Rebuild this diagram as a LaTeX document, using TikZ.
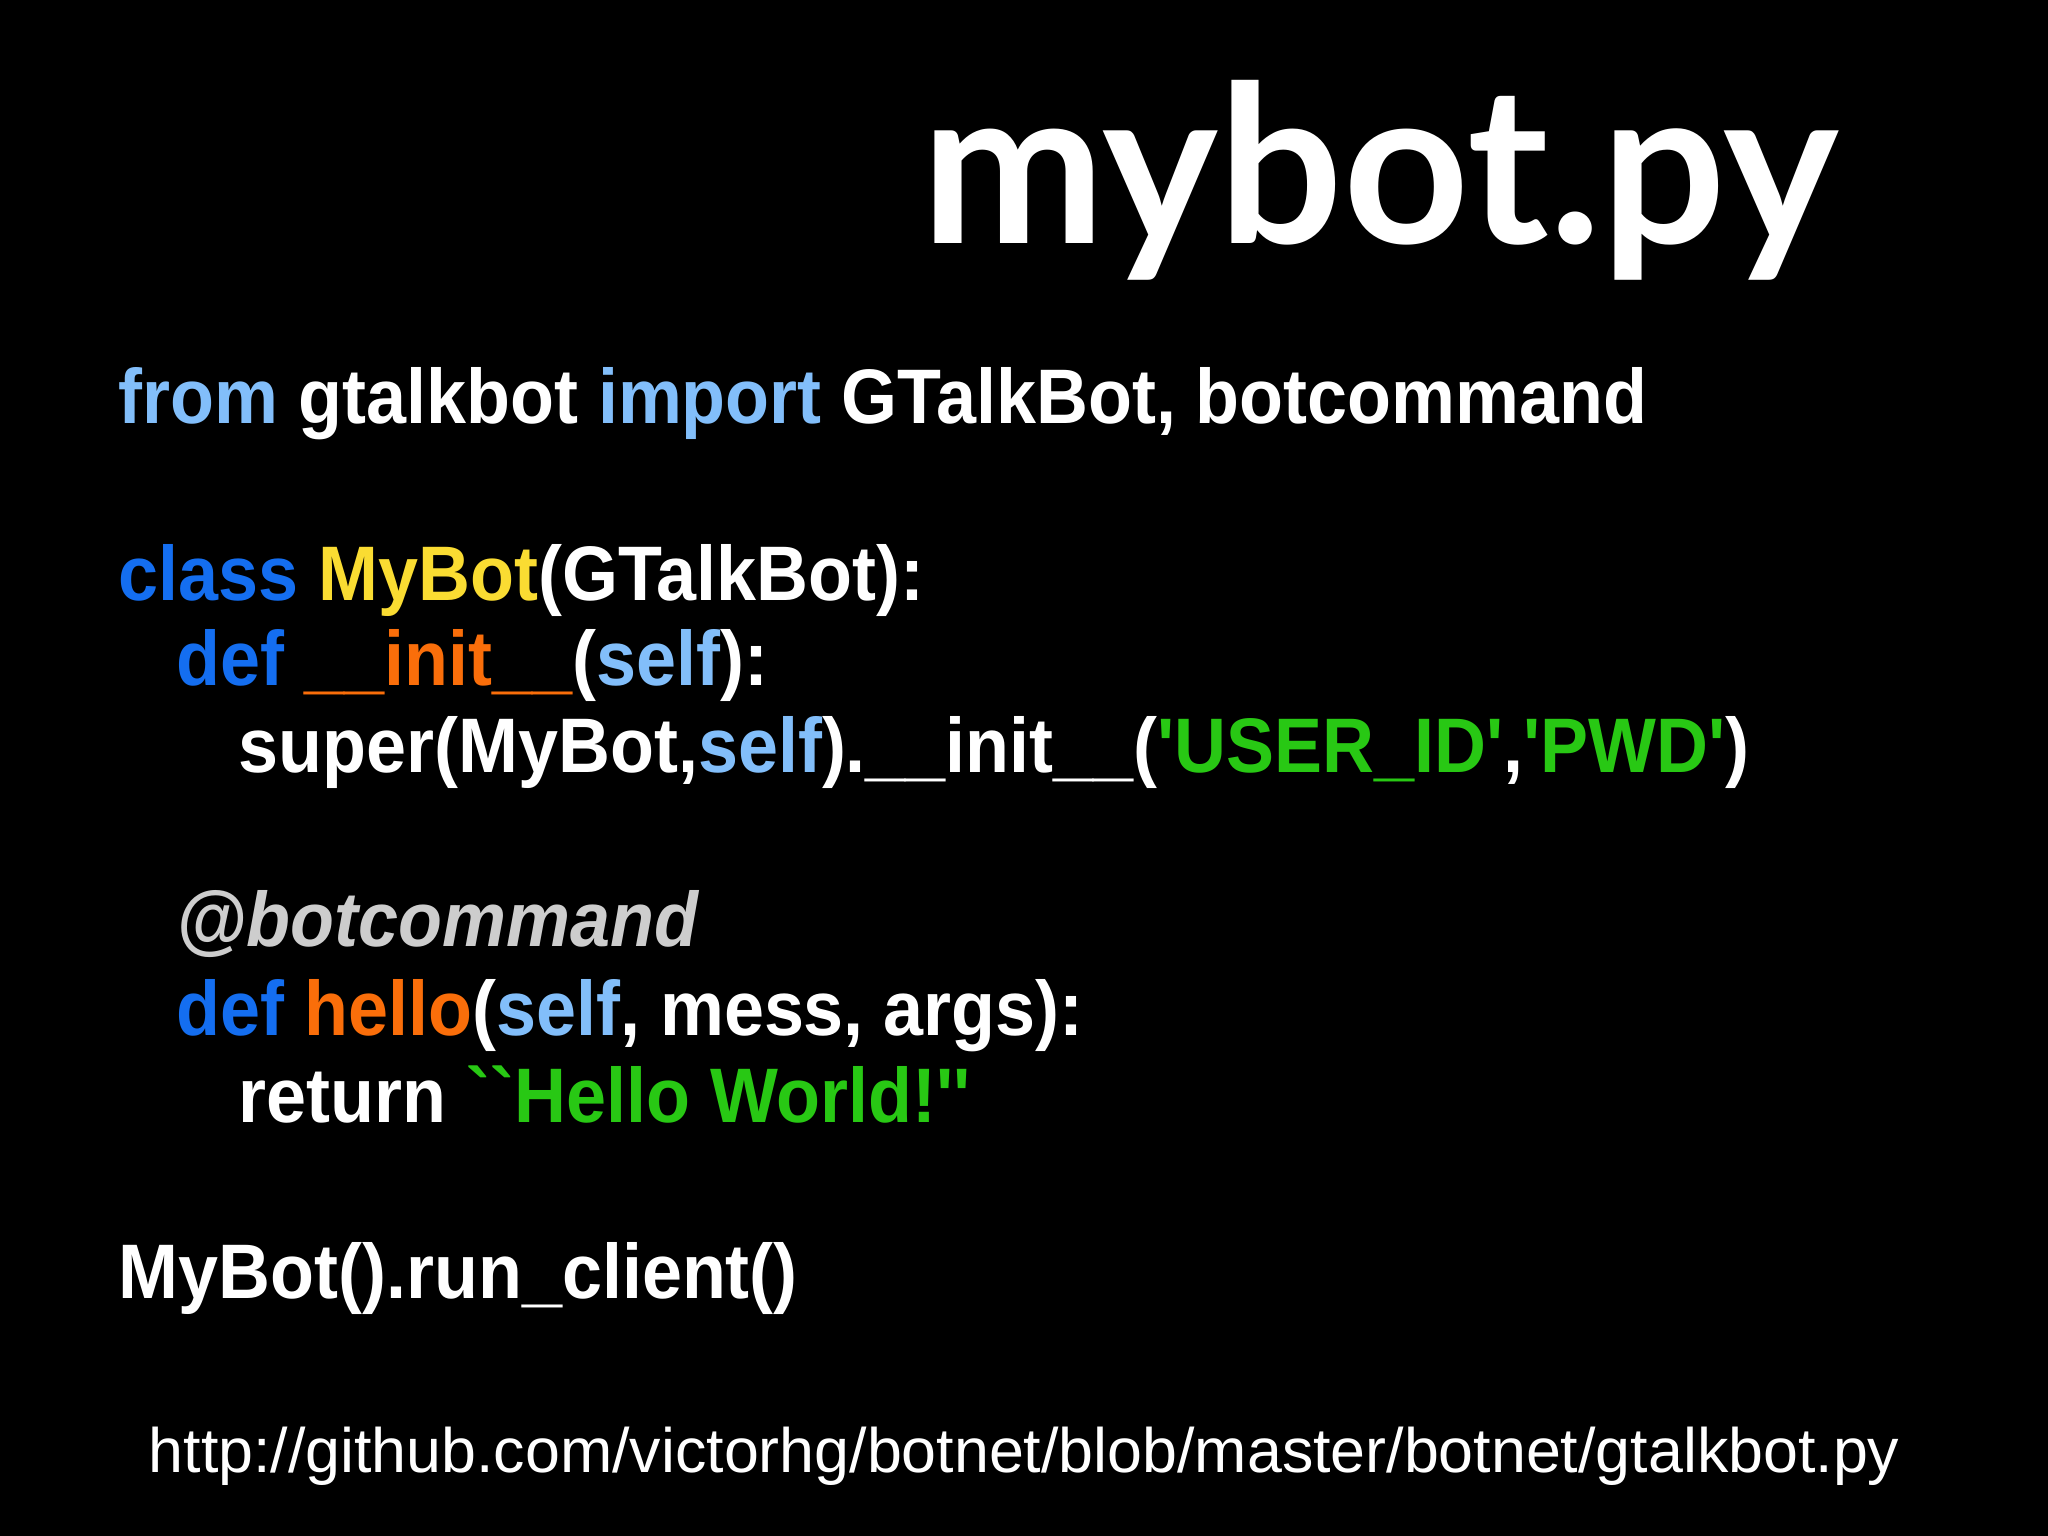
\documentclass[tikz,border=0pt]{standalone}
\usepackage{fontspec}
\setmainfont{Liberation Sans}
\newfontfamily\codefont[FakeStretch=0.93]{Liberation Sans}
\newfontfamily\titlefont{Lato}
\definecolor{lblue}{RGB}{130,190,250}
\definecolor{dblue}{RGB}{20,110,240}
\definecolor{kyellow}{RGB}{250,220,50}
\definecolor{korange}{RGB}{250,110,10}
\definecolor{kgreen}{RGB}{40,200,20}
\definecolor{kgrey}{RGB}{205,205,205}
\newcommand{\sq}{\symbol{39}}
\tikzset{code/.style={anchor=base west,inner sep=0pt,text=white,font=\codefont\fontsize{22}{26}\selectfont\bfseries}}
\begin{document}
\begin{tikzpicture}
\fill[black] (0,0) rectangle (20.48,15.36);
\useasboundingbox (0,0) rectangle (20.48,15.36);
\node[anchor=base east,inner sep=0pt,text=white,font=\titlefont\fontsize{62.5}{66}\selectfont\bfseries] (title) at (18.39,12.92) {mybot.py};
\node[code] (l1) at (1.18,11.12) {\textcolor{lblue}{from} gtalkbot \textcolor{lblue}{import} GTalkBot, botcommand};
\node[code] (l2) at (1.18,9.35) {\textcolor{dblue}{class} \textcolor{kyellow}{MyBot}(GTalkBot):};
\node[code] (l3) at (1.76,8.50) {\textcolor{dblue}{def} \textcolor{korange}{\_\_init\_\_}(\textcolor{lblue}{self}):};
\node[code] (l4) at (2.38,7.63) {super(MyBot,\textcolor{lblue}{self}).\_\_init\_\_(\textcolor{kgreen}{\sq USER\_ID\sq},\textcolor{kgreen}{\sq PWD\sq})};
\node[code] (l5) at (1.76,5.89) {\textcolor{kgrey}{\itshape @botcommand}};
\node[code] (l6) at (1.76,5.00) {\textcolor{dblue}{def} \textcolor{korange}{hello}(\textcolor{lblue}{self}, mess, args):};
\node[code] (l7) at (2.38,4.13) {return \textcolor{kgreen}{``Hello World!''}};
\node[code] (l8) at (1.18,2.37) {MyBot().run\_client()};
\node[anchor=base west,inner sep=0pt,text=white,font=\fontsize{17.85}{20}\selectfont] (url) at (1.48,0.63) {http://github.com/victorhg/botnet/blob/master/botnet/gtalkbot.py};
\end{tikzpicture}
\end{document}
